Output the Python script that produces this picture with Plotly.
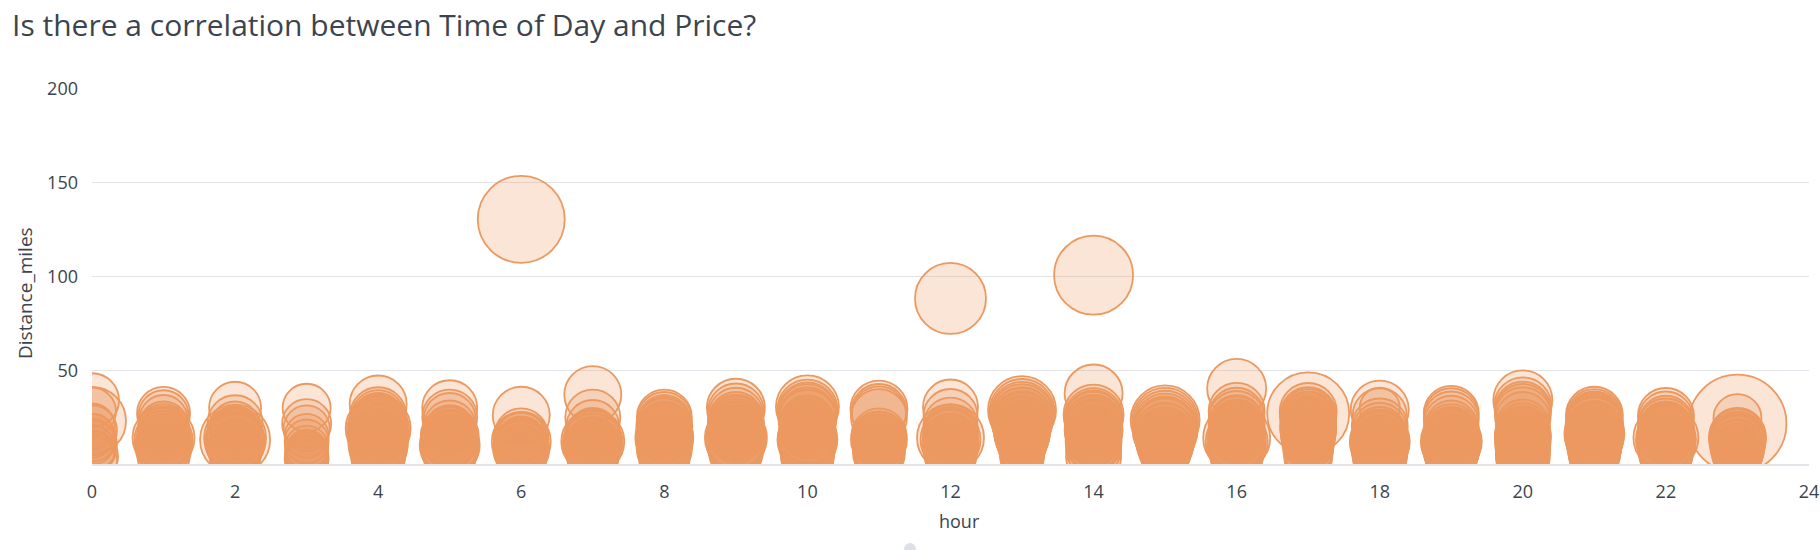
import plotly.graph_objects as go

# ---- data ----
hours = list(range(24))

distance_by_hour = [
    [34, 23, 28, 18, 12, 8, 4, 15, 10, 6, 20, 2, 14],
    [27, 26, 24, 20, 18, 14, 13, 12, 10, 8, 5, 3, 15, 16, 11, 7, 9, 4],
    [30, 22, 20, 13, 14, 12, 10, 16, 8, 5, 18, 11, 15, 9, 7, 12, 3],
    [30, 21.5, 19, 15, 12, 9, 6, 4, 2, 3, 5, 7, 1],
    [32, 26, 25, 22, 20, 19, 18, 16, 14, 12, 10, 8, 6, 15, 24, 21, 17, 13, 11, 9, 4],
    [30, 25, 24, 15, 13, 12, 10, 8, 6, 18, 11, 14, 9, 7, 4, 16, 20],
    [26, 15.5, 12, 13, 11, 9, 7, 14, 5, 130.5, 10, 8, 6, 12, 3],
    [37, 25, 20, 14, 12, 11, 10, 8, 6, 16, 13, 4, 9, 7, 15, 5, 2],
    [25, 24, 22, 20, 18, 16, 14, 12, 10, 8, 6, 4, 2, 15, 21, 19, 17, 13, 11, 9, 23],
    [30, 28, 26, 24, 22, 20, 18, 14, 13, 11, 9, 7, 5, 16, 12, 21, 19, 17, 15, 10, 8],
    [30.5, 29, 28, 26, 24, 22, 20, 18, 16, 14, 13, 11, 9, 7, 5, 3, 27, 25, 21, 19, 15, 12],
    [29.3, 28, 27, 25, 15, 14, 12, 11, 9, 8, 6, 4, 13, 10, 13.5, 11.5, 7, 5, 3],
    [30.4, 25.6, 21, 17, 14, 13, 12, 10, 8, 6, 4, 15, 88.3, 16, 11, 9, 7, 5, 3],
    [28.7, 28, 27, 26, 25, 24, 22, 20, 18, 16, 14, 12, 10, 8, 6, 4, 3, 23, 21, 19, 17, 15, 13],
    [37.6, 26.3, 25, 24, 22, 20, 18, 16, 14, 12, 10, 8, 6, 4, 100.7, 23, 21, 19, 17, 15, 13, 11],
    [23.5, 23, 22, 21, 20, 18, 16, 14, 12, 10, 8, 6, 4, 15, 19, 17, 13, 11, 9, 7],
    [40.3, 28.3, 26, 24, 22, 20, 18, 14, 12, 10, 8, 6, 4, 2, 16, 21, 19, 17, 15, 13, 11, 9],
    [27, 28, 26, 24, 22, 20, 18, 16, 14, 12, 10, 8, 6, 4, 2, 25, 23, 21, 19, 17, 15, 13],
    [29, 30, 26, 20, 18, 13, 12, 10, 8, 6, 4, 15, 11, 16, 14, 9, 7, 5, 3],
    [27, 26, 24, 22, 20, 13, 12, 11, 9, 7, 5, 3, 15, 17, 14, 10, 8, 6, 16, 4],
    [34.2, 31, 29, 28, 26, 24, 16, 14, 12, 10, 8, 6, 4, 2, 20, 18, 15, 13, 11, 9, 7, 5],
    [26, 25, 24, 22, 20, 18, 16, 14, 12, 10, 8, 6, 4, 2, 19, 23, 21, 17, 15, 13, 11, 9],
    [25.6, 24, 22, 20, 18, 14, 13, 12, 10, 8, 6, 4, 16, 11, 19, 17, 15, 9, 7, 5],
    [21.5, 24.5, 14, 13, 12, 11, 10, 8, 6, 4, 2, 9, 15, 7, 5, 3, 12.5],
]

price_by_hour = [
    [24, 38, 18, 20, 16, 18, 22, 14, 20, 14, 16, 20, 18],
    [23, 20, 18, 20, 22, 32, 28, 25, 20, 22, 18, 16, 20, 22, 24, 20, 26, 22],
    [22, 25, 20, 40, 32, 26, 22, 20, 24, 20, 18, 28, 26, 24, 22, 30, 20],
    [18, 19, 16, 14, 14, 13, 13, 12, 12, 14, 13, 12, 12],
    [27, 26, 24, 26, 30, 35, 32, 28, 26, 30, 28, 26, 24, 24, 22, 28, 30, 28, 26, 28, 24],
    [25, 25, 22, 28, 26, 24, 30, 26, 22, 20, 28, 26, 28, 24, 22, 24, 22],
    [27, 23, 29, 25, 22, 24, 22, 20, 20, 57, 24, 26, 22, 20, 20],
    [27, 25, 23, 26, 33, 30, 26, 24, 22, 22, 28, 20, 26, 24, 24, 22, 20],
    [25, 24, 22, 26, 25, 26, 28, 26, 24, 25, 22, 20, 20, 24, 24, 24, 26, 24, 26, 24, 22],
    [28, 26, 25, 24, 26, 25, 27, 32, 30, 28, 25, 24, 22, 26, 24, 26, 24, 26, 24, 26, 24],
    [33, 30, 28, 26, 28, 25, 24, 26, 27, 28, 30, 27, 25, 24, 23, 22, 28, 26, 25, 26, 27, 26],
    [27, 25, 24, 26, 25, 22, 24, 20, 22, 20, 22, 18, 26, 16, 24, 22, 20, 20, 18],
    [25, 24, 24, 25, 37, 30, 26, 25, 24, 22, 20, 24, 41, 24, 26, 24, 22, 22, 20],
    [38, 35, 33, 32, 30, 32, 30, 28, 26, 25, 22, 20, 18, 16, 14, 14, 12, 30, 28, 26, 26, 24, 22],
    [28, 30, 28, 27, 26, 25, 28, 26, 25, 26, 24, 25, 22, 25, 49, 28, 26, 26, 25, 26, 24, 25],
    [39, 36, 34, 32, 30, 35, 32, 30, 28, 26, 22, 20, 18, 26, 30, 28, 28, 26, 24, 22],
    [29, 26, 25, 26, 25, 24, 26, 37, 32, 28, 25, 24, 22, 20, 25, 26, 24, 26, 25, 28, 26, 26],
    [52, 27, 26, 25, 24, 26, 25, 24, 22, 22, 20, 20, 18, 18, 16, 26, 25, 24, 26, 25, 24, 22],
    [28, 10, 24, 26, 25, 27, 30, 28, 26, 25, 24, 22, 26, 24, 26, 26, 24, 24, 22],
    [25, 24, 25, 24, 22, 28, 31, 28, 26, 25, 22, 20, 25, 26, 26, 28, 26, 24, 24, 22],
    [29, 27, 26, 25, 26, 24, 25, 26, 24, 25, 24, 22, 24, 22, 24, 24, 26, 24, 25, 24, 24, 22],
    [27, 26, 25, 26, 28, 27, 30, 28, 26, 24, 22, 22, 20, 18, 25, 26, 26, 27, 28, 26, 24, 24],
    [26, 25, 24, 26, 25, 35, 30, 28, 26, 25, 24, 22, 25, 27, 24, 25, 26, 26, 24, 22],
    [68, 18, 27, 26, 24, 25, 22, 20, 18, 16, 16, 24, 26, 22, 20, 18, 26],
]

x_ticks = [0, 2, 4, 6, 8, 10, 12, 14, 16, 18, 20, 22, 24]
y_ticks = [50, 100, 150, 200]

# flatten to one point per ride
hour, distance_miles, price = [], [], []
for h, dl, pl in zip(hours, distance_by_hour, price_by_hour):
    assert len(dl) == len(pl), h
    for d, p in zip(dl, pl):
        hour.append(h)
        distance_miles.append(d)
        price.append(p)

# ---- style ----
ORANGE = "rgb(236,153,96)"
FILL = "rgba(236,153,96,0.25)"
TEXT = "#3c444d"
GRID = "#e1e5ea"
FONT = "'Open Sans', Lato, sans-serif"
BUBBLE_BASE = 30  # px diameter offset for bubble scale

W, H = 1820, 550
ML, MR, MT, MB = 92, 11, 89, 86
plot_h = H - MT - MB
plot_w = W - ML - MR

fig = go.Figure(
    go.Scatter(
        x=hour,
        y=distance_miles,
        mode="markers",
        marker=dict(
            size=[BUBBLE_BASE + p for p in price],
            sizemode="diameter",
            color=FILL,
            opacity=1,
            line=dict(color=ORANGE, width=1.8),
        ),
        cliponaxis=True,
        hoverinfo="x+y+text",
        text=[f"price: {p}" for p in price],
        showlegend=False,
    )
)

fig.update_layout(
    width=W,
    height=H,
    margin=dict(l=ML, r=MR, t=MT, b=MB, autoexpand=False),
    paper_bgcolor="white",
    plot_bgcolor="white",
    font=dict(family=FONT, color=TEXT, size=18),
    title=dict(
        text="Is there a correlation between Time of Day and Price?",
        x=12 / W,
        xref="container",
        xanchor="left",
        y=1 - 25.5 / H,
        yref="container",
        yanchor="middle",
        font=dict(family=FONT, size=30, color=TEXT),
    ),
    xaxis=dict(
        range=[0, 24],
        tickvals=x_ticks,
        ticktext=[str(t) for t in x_ticks],
        showgrid=False,
        zeroline=False,
        showline=True,
        linecolor=GRID,
        linewidth=1.5,
        ticks="",
        ticklabelstandoff=11,
        tickfont=dict(size=18, color=TEXT),
        automargin=False,
        fixedrange=True,
    ),
    yaxis=dict(
        range=[0, 200],
        tickvals=y_ticks,
        ticktext=[str(t) for t in y_ticks],
        showgrid=True,
        gridcolor=GRID,
        gridwidth=1,
        zeroline=False,
        showline=False,
        ticks="",
        ticklabelstandoff=13,
        tickfont=dict(size=18, color=TEXT),
        automargin=False,
        fixedrange=True,
    ),
    annotations=[
        dict(
            text="hour",
            xref="paper",
            yref="paper",
            x=(959 - ML) / plot_w,
            y=-(521 - (H - MB)) / plot_h,
            xanchor="center",
            yanchor="middle",
            showarrow=False,
            font=dict(family=FONT, size=18, color=TEXT),
        ),
        dict(
            text="Distance_miles",
            xref="paper",
            yref="paper",
            x=-(ML - 25) / plot_w,
            y=((H - MB) - 293) / plot_h,
            xanchor="center",
            yanchor="middle",
            textangle=-90,
            showarrow=False,
            font=dict(family=FONT, size=19, color=TEXT),
        ),
    ],
    shapes=[
        dict(
            type="circle",
            xref="paper",
            yref="paper",
            xsizemode="pixel",
            ysizemode="pixel",
            xanchor=(910 - ML) / plot_w,
            yanchor=-(549 - (H - MB)) / plot_h,
            x0=-6,
            x1=6,
            y0=-6,
            y1=6,
            fillcolor="#dde1e6",
            line=dict(width=0),
            layer="above",
        )
    ],
)

fig.write_html(
    "out.html",
    config={"displayModeBar": False},
    post_script="document.body.style.margin='0';document.body.style.overflow='hidden';",
)
